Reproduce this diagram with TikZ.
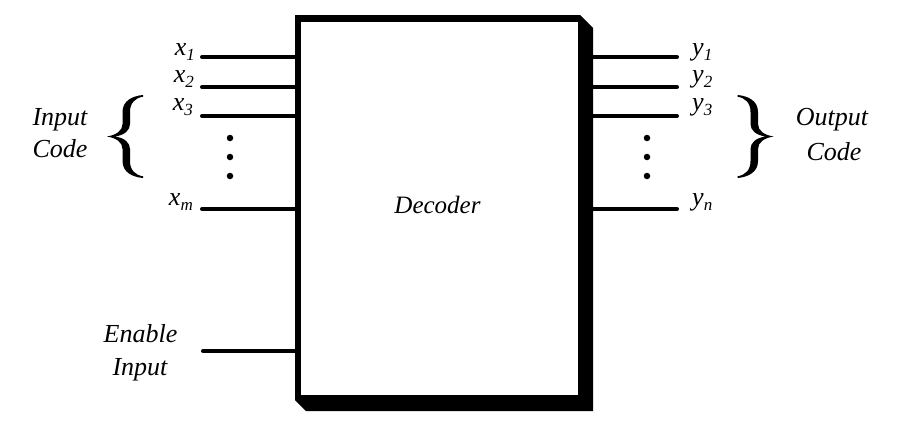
\documentclass[tikz,border=0pt]{standalone}
\usepackage{fontspec}
\setmainfont{Liberation Serif}
\newcommand\siglab[2]{\textit{#1}\raisebox{-5pt}{\fontsize{17}{17}\selectfont\textit{#2}}}
\tikzset{
  wire/.style={line width=4pt, line cap=round},
  dotnode/.style={circle, fill=black, inner sep=0pt, minimum size=6.5pt},
  siglabel/.style={inner sep=0pt, font=\fontsize{26}{26}\selectfont},
  biglabel/.style={inner sep=0pt, anchor=base, font=\fontsize{26}{26}\selectfont\itshape},
  curlybrace/.pic={
    \fill (18,-41.5) .. controls (7,-40.5) and (-2.5,-35.5) .. (-2.5,-24.5) -- (-2.5,-12.5)
      .. controls (-2.5,-5.5) and (-9,-1.5) .. (-18,0)
      .. controls (-9,1.5) and (-2.5,5.5) .. (-2.5,12.5) -- (-2.5,24.5)
      .. controls (-2.5,35.5) and (7,40.5) .. (18,41.5) -- (18,39.8)
      .. controls (10,38.5) and (5,33.5) .. (5,24.5) -- (5,12.5)
      .. controls (5,6.5) and (0,1.5) .. (-10,0)
      .. controls (0,-1.5) and (5,-6.5) .. (5,-12.5) -- (5,-24.5)
      .. controls (5,-33.5) and (10,-38.5) .. (18,-39.8) -- cycle;
  },
}
\begin{document}
\begin{tikzpicture}[x=1pt,y=-1pt]
\useasboundingbox (0,0) rectangle (917,434);
% box with shadow
\fill[black] (295,15) -- (580,15) -- (593,28) -- (593,411) -- (306,411) -- (295,400) -- cycle;
\node[inner sep=0pt, minimum width=277pt, minimum height=373pt] (box) at (439.5,208.5) {};
% input wires
\coordinate (i1) at (202,57);
\coordinate (i2) at (202,87);
\coordinate (i3) at (202,116);
\coordinate (im) at (202,209);
\coordinate (ie) at (203,351);
\foreach \c in {i1,i2,i3,im,ie} \draw[wire] (\c) -- (\c -| box.west);
% output wires
\coordinate (o1) at (677,57);
\coordinate (o2) at (677,87);
\coordinate (o3) at (677,116);
\coordinate (on) at (677,209);
\foreach \c in {o1,o2,o3,on} \draw[wire] (\c -| box.east) -- (\c);
\fill[white] (box.south west) rectangle (box.north east);
\node[anchor=base, inner sep=0pt, font=\fontsize{25}{25}\selectfont\itshape] (dec) at (437.5,213) {Decoder};
% input labels
\node[siglabel, anchor=base east] (lx1) at (195,55) {\siglab{x}{1}};
\node[siglabel, anchor=base east] (lx2) at (194,82) {\siglab{x}{2}};
\node[siglabel, anchor=base east] (lx3) at (193,110) {\siglab{x}{3}};
\node[siglabel, anchor=base east] (lxm) at (193,205) {\siglab{x}{m}};
% output labels
\node[siglabel, anchor=base west] (ly1) at (692,55) {\siglab{y}{1}};
\node[siglabel, anchor=base west] (ly2) at (692,82) {\siglab{y}{2}};
\node[siglabel, anchor=base west] (ly3) at (692,110) {\siglab{y}{3}};
\node[siglabel, anchor=base west] (lyn) at (692,205) {\siglab{y}{n}};
% dots
\node[dotnode] (ld1) at (230,138) {};
\node[dotnode] (ld2) at (230,157) {};
\node[dotnode] (ld3) at (230,176) {};
\node[dotnode] (rd1) at (647,138) {};
\node[dotnode] (rd2) at (647,157) {};
\node[dotnode] (rd3) at (647,176) {};
% braces
\pic at (125,136.5) {curlybrace};
\pic[xscale=-1] at (755.5,136.5) {curlybrace};
% group labels
\node[biglabel] (incode1) at (60,125) {Input};
\node[biglabel] (incode2) at (60,157) {Code};
\node[biglabel] (outcode1) at (832,125) {Output};
\node[biglabel] (outcode2) at (834,160) {Code};
\node[biglabel] (en1) at (140.5,342) {Enable};
\node[biglabel] (en2) at (140,375) {Input};
\end{tikzpicture}
\end{document}
